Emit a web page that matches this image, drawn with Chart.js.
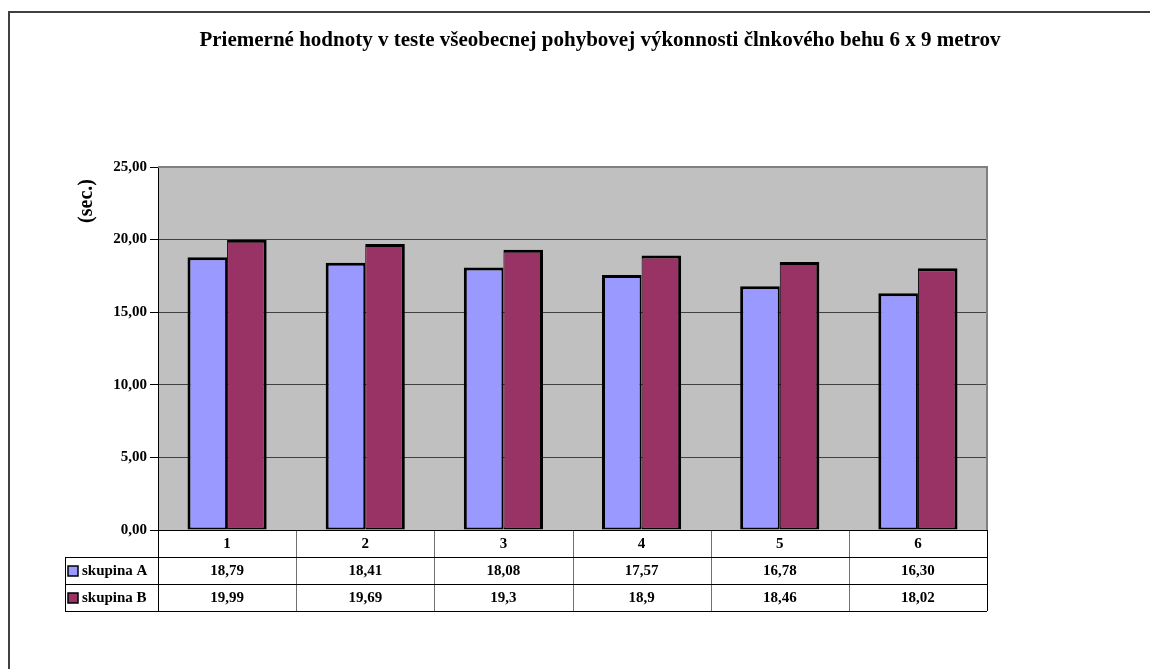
<!DOCTYPE html>
<html lang="sk">
<head>
<meta charset="utf-8">
<title>Priemerné hodnoty – člnkový beh 6 x 9 m</title>
<script src="https://cdn.jsdelivr.net/npm/chart.js@4/dist/chart.umd.min.js"></script>
<style>
  html, body { margin: 0; padding: 0; background: #fff; }
  canvas { display: block; }
</style>
</head>
<body>
<canvas id="c" width="1150" height="669"></canvas>
<script>
// Kategórie (merania) a priemerné časy skupín v sekundách
const categories = ['1', '2', '3', '4', '5', '6'];
const groupA = [18.79, 18.41, 18.08, 17.57, 16.78, 16.30];
const groupB = [19.99, 19.69, 19.3, 18.9, 18.46, 18.02];
const seriesNames = ['skupina A', 'skupina B'];
const yTicks = [0, 5, 10, 15, 20, 25];

const titleText = 'Priemerné hodnoty v teste všeobecnej pohybovej výkonnosti člnkového behu 6 x 9 metrov';
const yTitle = '(sec.)';

const SERIF = '"Liberation Serif", "Times New Roman", serif';
const colorA = '#9999FF';
const colorB = '#993366';

// Čísla v tabuľke: skupina A s dvomi desatinnými miestami, skupina B tak, ako bola zapísaná
const fmtA = v => v.toFixed(2).replace('.', ',');
const fmtB = v => String(v).replace('.', ',');

// Sivé pozadie grafu, rám a popis osi Y
const framePlugin = {
  id: 'frame',
  beforeDraw(chart) {
    const { ctx, chartArea: a } = chart;
    ctx.save();
    ctx.fillStyle = '#ffffff';
    ctx.fillRect(0, 0, chart.width, chart.height);
    ctx.fillStyle = '#C0C0C0';
    ctx.fillRect(a.left, a.top, a.right - a.left, a.bottom - a.top);
    // vonkajší rám
    ctx.strokeStyle = '#404040';
    ctx.lineWidth = 2;
    ctx.beginPath();
    ctx.moveTo(9, chart.height);
    ctx.lineTo(9, 12);
    ctx.lineTo(chart.width, 12);
    ctx.stroke();
    ctx.restore();
  },
  afterDraw(chart) {
    const { ctx, chartArea: a } = chart;
    ctx.save();
    ctx.strokeStyle = '#808080';
    ctx.lineWidth = 2;
    ctx.beginPath();
    ctx.moveTo(a.left, a.top);
    ctx.lineTo(a.right, a.top);
    ctx.lineTo(a.right, a.bottom);
    ctx.stroke();

    ctx.translate(87, 201);
    ctx.rotate(-Math.PI / 2);
    ctx.fillStyle = '#000';
    ctx.font = 'bold 20px ' + SERIF;
    ctx.textAlign = 'center';
    ctx.textBaseline = 'middle';
    ctx.fillText(yTitle, 0, 0);
    ctx.restore();
  }
};

// Tabuľka údajov pod osou X, stĺpce podľa kategórií osi X
const tablePlugin = {
  id: 'dataTable',
  afterDraw(chart) {
    const { ctx, chartArea: a } = chart;
    const xs = chart.scales.x;
    const n = categories.length;
    const colW = (a.right - a.left) / n;
    const rowH = 27;
    const top = a.bottom;
    const rows = [
      { label: null, cells: categories },
      { label: seriesNames[0], color: colorA, cells: groupA.map(fmtA) },
      { label: seriesNames[1], color: colorB, cells: groupB.map(fmtB) }
    ];
    const tableLeft = 65;
    const bottom = top + rowH * rows.length;

    ctx.save();
    ctx.lineWidth = 1;
    // vnútorné zvislé čiary
    ctx.strokeStyle = '#707070';
    ctx.beginPath();
    for (let i = 1; i < n; i++) {
      const x = Math.round(a.left + i * colW) + 0.5;
      ctx.moveTo(x, top);
      ctx.lineTo(x, bottom);
    }
    ctx.stroke();

    ctx.strokeStyle = '#000';
    ctx.beginPath();
    // vodorovné čiary
    ctx.moveTo(a.left, top + 0.5);
    ctx.lineTo(a.right, top + 0.5);
    for (let r = 1; r <= rows.length; r++) {
      const y = Math.round(top + r * rowH) + 0.5;
      ctx.moveTo(tableLeft, y);
      ctx.lineTo(a.right, y);
    }
    // okrajové zvislé čiary
    const xl = Math.round(a.left) + 0.5;
    const xr = Math.round(a.right) + 0.5;
    ctx.moveTo(xl, top); ctx.lineTo(xl, bottom);
    ctx.moveTo(xr, top); ctx.lineTo(xr, bottom);
    ctx.moveTo(tableLeft + 0.5, top + rowH); ctx.lineTo(tableLeft + 0.5, bottom);
    ctx.stroke();

    ctx.fillStyle = '#000';
    ctx.font = 'bold 15px ' + SERIF;
    ctx.textBaseline = 'middle';
    rows.forEach((row, r) => {
      const cy = top + r * rowH + rowH / 2 + 1;
      ctx.textAlign = 'center';
      ctx.fillStyle = '#000';
      row.cells.forEach((txt, i) => {
        ctx.fillText(txt, xs.getPixelForValue(i), cy);
      });
      if (row.label) {
        ctx.fillStyle = row.color;
        ctx.fillRect(68, cy - 5.5, 10, 10);
        ctx.strokeStyle = '#000';
        ctx.lineWidth = 1.5;
        ctx.strokeRect(68, cy - 5.5, 10, 10);
        ctx.fillStyle = '#000';
        ctx.textAlign = 'left';
        ctx.fillText(row.label, 82, cy);
      }
    });
    ctx.restore();
  }
};

new Chart(document.getElementById('c'), {
  type: 'bar',
  data: {
    labels: categories,
    datasets: [
      {
        label: seriesNames[0],
        data: groupA,
        backgroundColor: colorA,
        borderColor: '#000',
        borderWidth: { left: 3, top: 3, right: 2, bottom: 2 },
        borderSkipped: false
      },
      {
        label: seriesNames[1],
        data: groupB,
        backgroundColor: colorB,
        borderColor: '#000',
        borderWidth: { left: 1, top: 3, right: 3, bottom: 2 },
        borderSkipped: false
      }
    ]
  },
  options: {
    responsive: false,
    animation: false,
    devicePixelRatio: 1,
    layout: { padding: { left: 50, right: 0, top: 0, bottom: 139 } },
    datasets: {
      bar: { categoryPercentage: 0.573, barPercentage: 1.0 }
    },
    plugins: {
      legend: { display: false },
      tooltip: { enabled: false },
      title: {
        display: true,
        text: titleText,
        color: '#000',
        font: { family: SERIF, size: 21, weight: 'bold', lineHeight: 1.2 },
        padding: { top: 28.4, bottom: 113.4 }
      }
    },
    scales: {
      x: {
        type: 'category',
        display: false
      },
      y: {
        min: 0,
        max: 25,
        afterBuildTicks(scale) {
          scale.ticks = yTicks.map(v => ({ value: v }));
        },
        afterFit(scale) { scale.width = 108; },
        ticks: {
          color: '#000',
          padding: 3,
          font: { family: SERIF, size: 15, weight: 'bold' },
          callback: v => v.toFixed(2).replace('.', ',')
        },
        grid: {
          color: '#404040',
          lineWidth: 1,
          drawTicks: true,
          tickLength: 8,
          tickColor: '#000'
        },
        border: { display: true, color: '#000', width: 1 }
      },
      // prázdny okraj napravo od grafu
      yRight: {
        position: 'right',
        min: 0,
        max: 25,
        display: true,
        grid: { display: false, drawTicks: false },
        ticks: { display: false },
        border: { display: false },
        afterFit(scale) { scale.width = 163; }
      }
    }
  },
  plugins: [framePlugin, tablePlugin]
});
</script>
</body>
</html>
